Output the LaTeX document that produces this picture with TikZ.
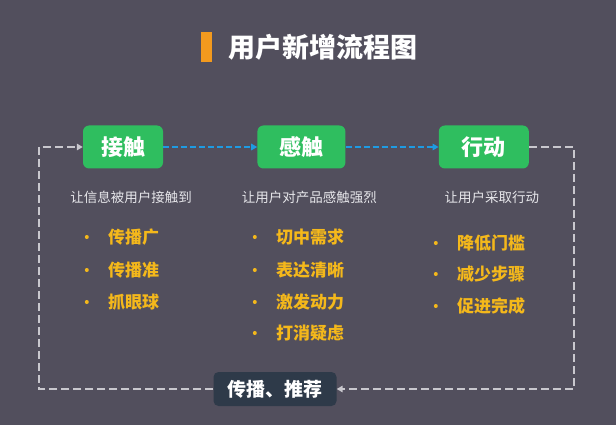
\documentclass[tikz,border=0pt]{standalone}
\usepackage{fontspec}
\setmainfont{Noto Sans CJK SC}
\usetikzlibrary{arrows.meta,positioning}

\definecolor{bgSlate}{HTML}{524F5D}
\definecolor{stageGreen}{HTML}{2FBE5F}
\definecolor{flowBlue}{HTML}{1E9BE3}
\definecolor{loopGray}{HTML}{C9C8CE}
\definecolor{pointYellow}{HTML}{F4B81B}
\definecolor{markOrange}{HTML}{F39A1E}
\definecolor{spreadDark}{HTML}{2E3A49}
\definecolor{hintGray}{HTML}{E6E6EA}

\begin{document}
\begin{tikzpicture}[
        x=1pt, y=-1pt,
        stageBox/.style={
            fill=stageGreen,
            rounded corners=6pt,
            minimum width=84pt,
            minimum height=43pt,
            text=white,
            font=\fontsize{22}{22}\selectfont\bfseries
        },
        spreadBox/.style={
            fill=spreadDark,
            rounded corners=5pt,
            minimum width=123pt,
            minimum height=34pt,
            text=white,
            font=\fontsize{19}{19}\selectfont\bfseries
        },
        hintText/.style={
            text=hintGray,
            xshift=8pt,
            font=\fontsize{13.5}{13.5}\selectfont
        },
        pointText/.style={
            anchor=west,
            inner sep=0pt,
            text=pointYellow,
            font=\fontsize{17}{17}\selectfont\bfseries,
            label={[circle, fill=pointYellow, inner sep=0pt,
                minimum size=4pt, xshift=-19pt]left:{}}
        },
        flowLine/.style={
            draw=flowBlue,
            line width=2.2pt,
            dash pattern=on 6pt off 3pt,
            -{Triangle[length=6pt,width=6.5pt]}
        },
        loopLine/.style={
            draw=loopGray,
            line width=2.2pt,
            dash pattern=on 8pt off 4pt,
            -{Triangle[length=6pt,width=6.5pt]}
        }
    ]

        % Background and frame
        \fill[bgSlate] (0,0) rectangle (616,425);
        \useasboundingbox (0,0) rectangle (616,425);

        % Title
        \node[
            fill=markOrange,
            minimum width=11pt,
            minimum height=30pt,
            inner sep=0pt
        ] (titleMark) at (206.5,47) {};
        \node[
            right=13pt of titleMark,
            text=white,
            font=\fontsize{27}{27}\selectfont\bfseries
        ] (title) {用户新增流程图};

        % Stages
        \node[stageBox, minimum width=80pt] (contact) at (123,147) {接触};
        \node[
            stageBox,
            minimum width=88pt,
            right=94pt of contact
        ] (feel) {感触};
        \node[
            stageBox,
            minimum width=90pt,
            right=93pt of feel
        ] (act) {行动};

        % Stage hints
        \node[hintText, below=19pt of contact] (contactHint) {让信息被用户接触到};
        \node[hintText, below=19pt of feel] (feelHint) {让用户对产品感触强烈};
        \node[hintText, below=19pt of act] (actHint) {让用户采取行动};

        % Column 1
        \node[pointText] (contactA) at (108,237) {传播广};
        \node[pointText] (contactB) at (108,270) {传播准};
        \node[pointText] (contactC) at (108,302) {抓眼球};

        % Column 2
        \node[pointText] (feelA) at (276,237) {切中需求};
        \node[pointText] (feelB) at (276,270) {表达清晰};
        \node[pointText] (feelC) at (276,302) {激发动力};
        \node[pointText] (feelD) at (276,333) {打消疑虑};

        % Column 3
        \node[pointText] (actA) at (457,243) {降低门槛};
        \node[pointText] (actB) at (457,274) {减少步骤};
        \node[pointText] (actC) at (457,306) {促进完成};

        % Sharing step
        \node[spreadBox] (spread) at (275,389) {传播、推荐};

        % Connectors
        \draw[flowLine] (contact) -- (feel);
        \draw[flowLine] (feel) -- (act);
        \draw[loopLine] (act.east) -- ++(45,0) |- (spread.east);
        \draw[loopLine] (spread.west) -- ++(-174,0) |- (contact.west);

    \end{tikzpicture}
\end{document}
